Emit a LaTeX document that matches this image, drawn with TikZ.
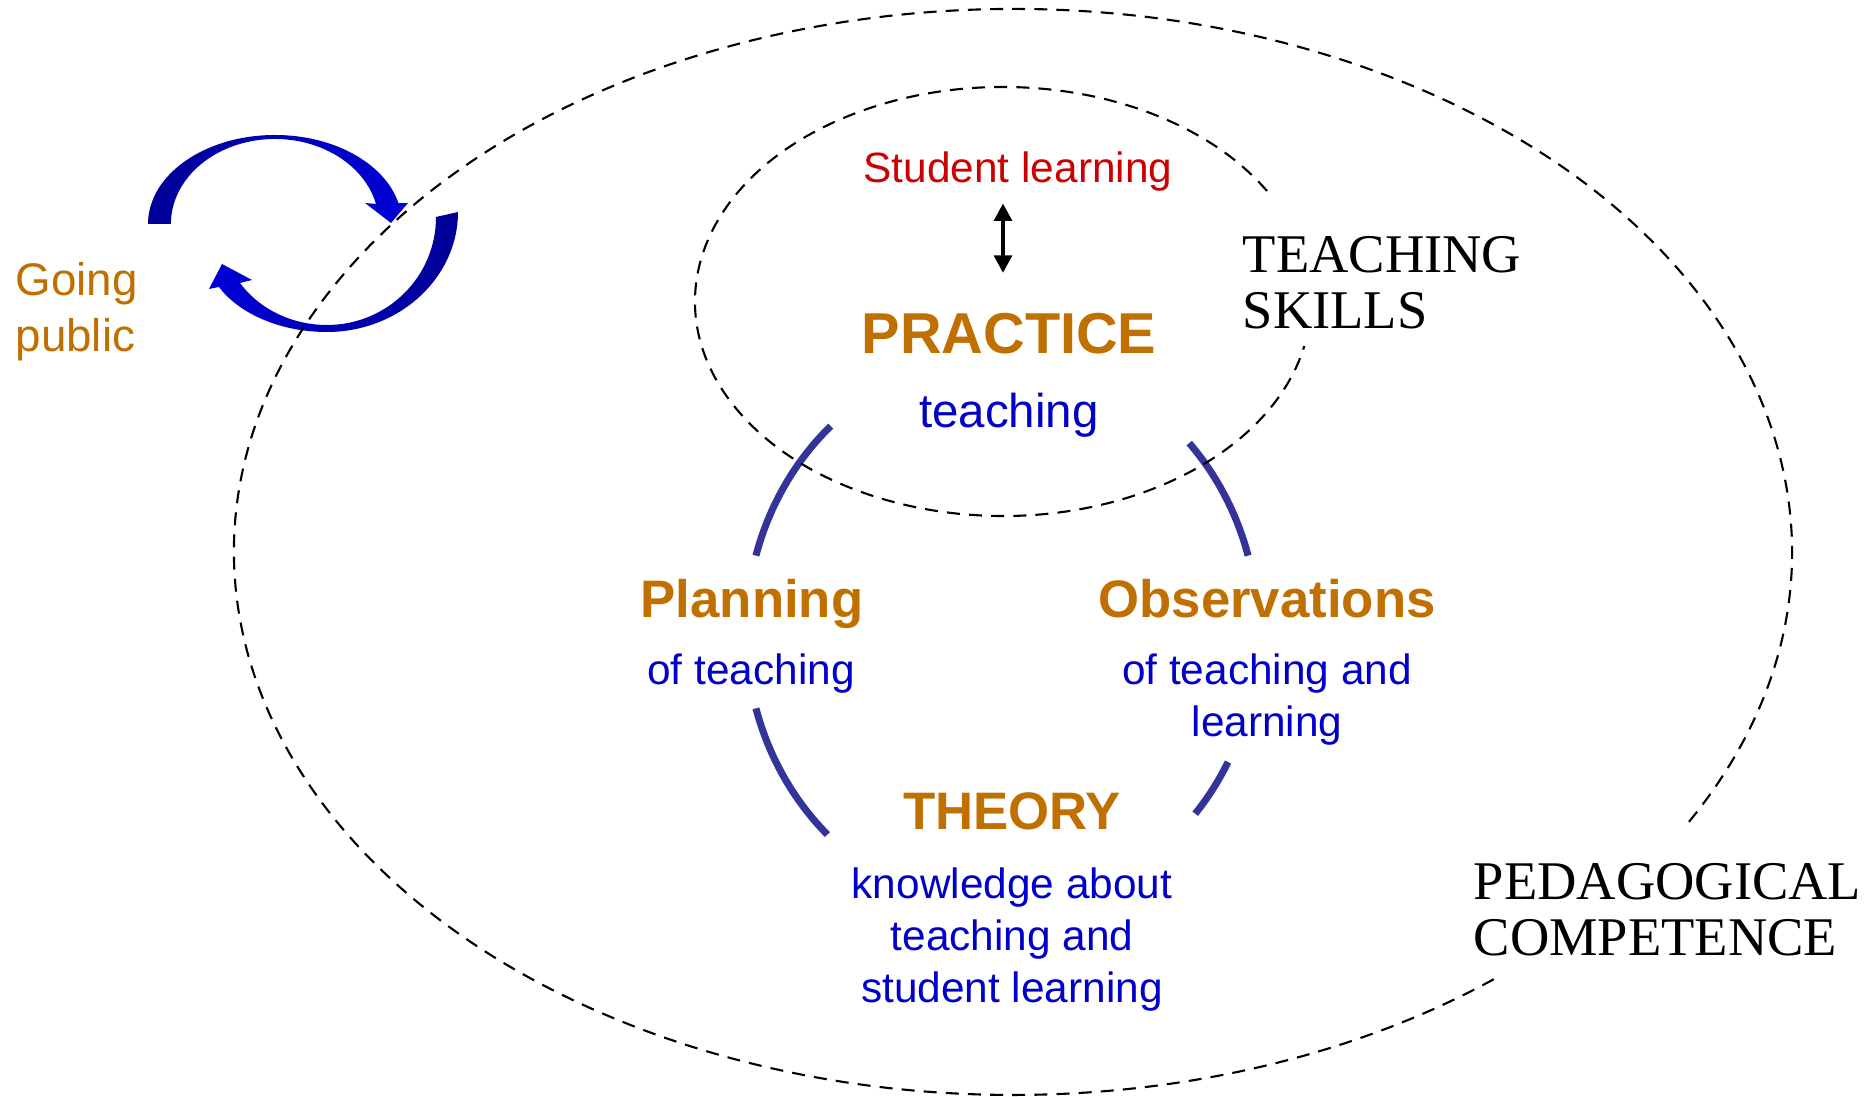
\documentclass[tikz,border=0pt]{standalone}
\usepackage{fontspec}
\setmainfont{Liberation Sans}
\newfontfamily\capsfont{Liberation Serif}
\usetikzlibrary{arrows.meta}

\definecolor{ochre}{RGB}{192,112,0}
\definecolor{inkblue}{RGB}{0,0,200}
\definecolor{learnred}{RGB}{204,0,0}
\definecolor{ringblue}{RGB}{51,51,153}
\definecolor{darkarrow}{RGB}{0,0,150}
\definecolor{lightarrow}{RGB}{0,0,215}

\begin{document}
\begin{tikzpicture}[x=0.01cm,y=0.01cm,>={Triangle[width=5pt,length=5pt]},
    head node/.style={inner sep=0pt,anchor=base,text=ochre,font=\bfseries\fontsize{15}{18}\selectfont},
    sub node/.style={inner sep=0pt,anchor=base,align=center,text=inkblue,font=\fontsize{12.05}{14.8}\selectfont},
    caps node/.style={inner sep=0pt,anchor=base west,align=left,font=\capsfont\fontsize{15.5}{16.2}\selectfont},
    ring/.style={ringblue,line width=2pt},
    zone/.style={dash pattern=on 3.7pt off 2.6pt,line width=0.6pt}]

  \useasboundingbox (0,0) rectangle (1872,1097);

  % going public: two bent arrows
  \shade[left color=darkarrow,right color=lightarrow]
    (148,873) arc[start angle=180,end angle=13.6,x radius=127,y radius=89]
    -- (408,894) -- (391,874) -- (365,894) -- (376,893)
    arc[start angle=13.6,end angle=180,x radius=104,y radius=85] -- cycle;
  \shade[left color=lightarrow,right color=darkarrow]
    (458,885) .. controls (458,819) and (399,765) .. (327,765)
    .. controls (275,765) and (236,787) .. (219,810)
    -- (209,808) -- (222,833) -- (252,817) -- (240,814)
    .. controls (256,792) and (287,772) .. (327,772)
    .. controls (387,772) and (436,820) .. (436,880) -- cycle;

  % the cycle between the three corners
  \foreach \a/\b in {132/164,196/227,16/43,-41/-28}
    \draw[ring] (1002,465) ++(\a:256 and 277)
      arc[start angle=\a,end angle=\b,x radius=256,y radius=277];

  % competence and skills zones
  \draw[zone] (1013,545) ++(-29.8:779 and 543)
    arc[start angle=-29.8,end angle=308.3,x radius=779,y radius=543];
  \draw[zone] (1003,795.5) ++(31:308 and 214.5)
    arc[start angle=31,end angle=348,x radius=308,y radius=214.5];

  % multi-line nodes sit on the baseline of their last line
  \node[sub node,text=learnred] (learning) at (1018,914) {Student learning};
  \node[head node,font=\bfseries\fontsize{16.4}{20}\selectfont] (practice) at (1009,743) {PRACTICE};
  \node[sub node,font=\fontsize{13.5}{16}\selectfont] (teaching) at (1009,669) {teaching};

  \node[head node] (planning) at (752,479) {Planning};
  \node[sub node] (planof) at (751,412) {of teaching};

  \node[head node] (observations) at (1267,479) {Observations};
  \node[sub node] (obsof) at (1267,360) {of teaching and\\learning};

  \node[head node] (theory) at (1012,267) {THEORY};
  \node[sub node] (knowledge) at (1012,94) {knowledge about\\teaching and\\student learning};

  \node[sub node,anchor=base west,align=left,text=ochre,font=\fontsize{13}{16}\selectfont]
    (public) at (15,745) {Going\\public};

  \node[caps node] (skills) at (1242,768) {TEACHING\\SKILLS};
  \node[caps node] (competence) at (1473,141) {PEDAGOGICAL\\COMPETENCE};

  \draw[<->,line width=1.2pt,shorten <=3.1pt,shorten >=11.4pt]
    ([xshift=-0.6mm]learning.south -| practice.north) -- ([xshift=-0.6mm]practice.north);
\end{tikzpicture}
\end{document}
